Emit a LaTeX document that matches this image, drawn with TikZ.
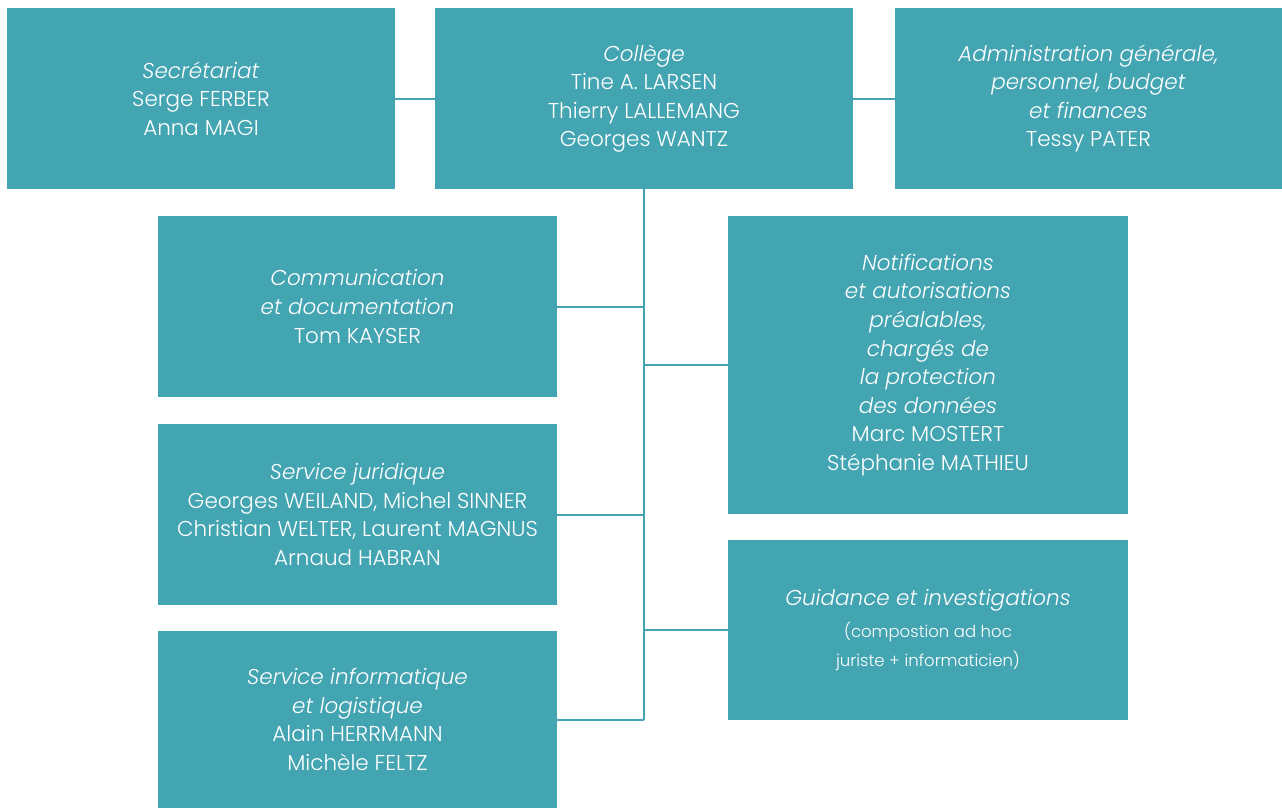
\documentclass[tikz,border=0pt]{standalone}
\usepackage{fontspec}
\setmainfont{Poppins}[UprightFont=* Light, ItalicFont=* Light Italic]
\definecolor{teal}{RGB}{67,164,178}
\tikzset{
  box/.style={fill=teal, text=white, inner sep=0pt, align=center,
    font=\fontsize{21.5}{28.6}\selectfont},
  link/.style={draw=teal, line width=2pt}
}
\newcommand{\ttl}[1]{\textit{#1}}
\newcommand{\note}{\fontsize{16.5}{27}\selectfont}
\begin{document}
\begin{tikzpicture}[x=1pt,y=-1pt]
      \useasboundingbox (0,0) rectangle (1282,809);
      \path[every node/.style=box]
        (201,98.5) node[minimum width=388pt,minimum height=181pt] (sec)
          {\ttl{Secrétariat}\\Serge FERBER\\Anna MAGI}
        (644,98.5) node[minimum width=418pt,minimum height=181pt] (col)
          {\ttl{Collège}\\Tine A. LARSEN\\Thierry LALLEMANG\\Georges WANTZ}
        (1088.5,98.5) node[minimum width=387pt,minimum height=181pt] (adm)
          {\ttl{Administration générale,}\\\ttl{personnel, budget}\\\ttl{et finances}\\Tessy PATER}
        (357.5,306.5) node[minimum width=399pt,minimum height=181pt] (com)
          {\ttl{Communication}\\\ttl{et documentation}\\Tom KAYSER}
        (357.5,514.5) node[minimum width=399pt,minimum height=181pt] (jur)
          {\ttl{Service juridique}\\Georges WEILAND, Michel SINNER\\Christian WELTER, Laurent MAGNUS\\Arnaud HABRAN}
        (357.5,719.5) node[minimum width=399pt,minimum height=177pt] (inf)
          {\ttl{Service informatique}\\\ttl{et logistique}\\Alain HERRMANN\\Michèle FELTZ}
        (928,365) node[minimum width=400pt,minimum height=298pt] (not)
          {\ttl{Notifications}\\\ttl{et autorisations}\\\ttl{préalables,}\\\ttl{chargés de}\\\ttl{la protection}\\\ttl{des données}\\Marc MOSTERT\\Stéphanie MATHIEU}
        (928,630) node[minimum width=400pt,minimum height=180pt] (gui)
          {\ttl{Guidance et investigations}\\[4pt]{\note (compostion ad hoc}\\{\note juriste + informaticien)}};
      \coordinate (end) at (col.south |- inf.east);
      \begin{scope}[link]
        \draw (sec) to (col);
        \draw (col) to (adm);
        \draw (col.south) to (end);
        \draw (com.east) to (com.east -| end);
        \draw (jur.east) to (jur.east -| end);
        \draw (inf.east) to (end);
        \draw (not.west) to (not.west -| end);
        \draw (gui.west) to (gui.west -| end);
      \end{scope}
    \end{tikzpicture}
\end{document}
